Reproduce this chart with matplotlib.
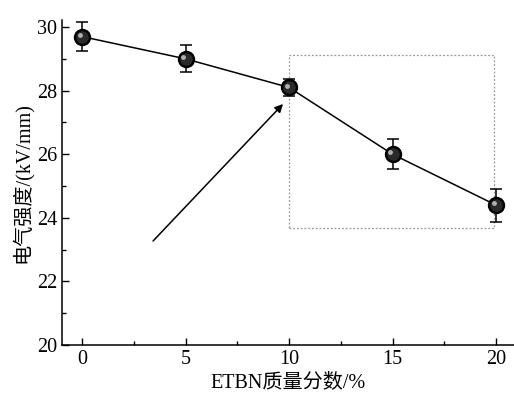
import numpy as np
import matplotlib
matplotlib.use("Agg")
import matplotlib.pyplot as plt
from matplotlib.patches import Rectangle
from matplotlib.ticker import MultipleLocator

plt.rcParams['font.family'] = ['Liberation Serif', 'Noto Sans CJK SC']
plt.rcParams['axes.unicode_minus'] = False

# data
content = [0, 5, 10, 15, 20]
strength = [29.7, 29.0, 28.1, 26.0, 24.4]
err = [0.45, 0.42, 0.28, 0.47, 0.52]

fig = plt.figure(figsize=(5.14, 4.01), dpi=100)
ax = fig.add_axes([0.1206, 0.1397, 0.8794, 0.8103])

ax.plot(content, strength, "-", color="black", linewidth=1.1, zorder=2)
ax.errorbar(content, strength, yerr=err, fmt="none", ecolor="black",
            elinewidth=1.1, capsize=4, capthick=1.1, zorder=2)
# sphere-like markers
ax.plot(content, strength, "o", color="black", markersize=11.5, zorder=3)
ax.plot(content, strength, "o", color="#2a2a2a", markersize=8, zorder=4)
ax.plot(np.array(content) - 0.12, np.array(strength) + 0.06, "o",
        color="#b0b0b0", markersize=3.5, markeredgewidth=0, zorder=5)

# highlight box and arrow
ax.add_patch(Rectangle((10.0, 23.68), 9.9, 5.44, fill=False,
                       edgecolor="#999999", linestyle=(0, (1.5, 1.5)),
                       linewidth=0.9, zorder=1))
ax.annotate("", xy=(9.71, 27.58), xytext=(3.43, 23.27),
            arrowprops=dict(arrowstyle="-|>", color="black", lw=1.1,
                            mutation_scale=12, shrinkA=0, shrinkB=0))

ax.set_xlim(-0.97, 20.87)
ax.set_ylim(20, 30.22)
ax.set_xticks([0, 5, 10, 15, 20])
ax.set_yticks([20, 22, 24, 26, 28, 30])
ax.xaxis.set_minor_locator(MultipleLocator(2.5))
ax.yaxis.set_minor_locator(MultipleLocator(1))
ax.tick_params(which="both", direction="in", labelsize=14.5)
ax.tick_params(which="major", length=5, width=1)
ax.tick_params(which="minor", length=3, width=1)
ax.spines["top"].set_visible(False)
ax.spines["right"].set_visible(False)
for s in ["left", "bottom"]:
    ax.spines[s].set_linewidth(1.1)

ax.set_xlabel("ETBN质量分数/%", fontsize=14.5, labelpad=3)
ax.set_ylabel("电气强度/(kV/mm)", fontsize=14.5, labelpad=3)

fig.savefig("out.png", dpi=100)
